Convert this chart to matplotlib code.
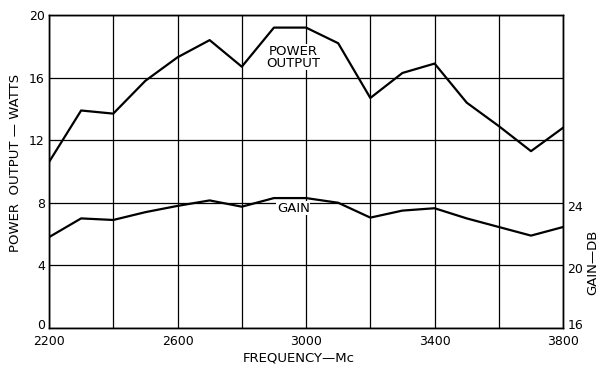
import matplotlib
matplotlib.use("Agg")
import matplotlib.pyplot as plt
from matplotlib.transforms import ScaledTranslation

freq = [2200, 2300, 2400, 2500, 2600, 2700, 2800, 2900, 3000, 3100, 3200, 3300, 3400, 3500, 3600, 3700, 3800]
power_w = [10.6, 13.9, 13.7, 15.8, 17.3, 18.4, 16.7, 19.2, 19.2, 18.2, 14.7, 16.3, 16.9, 14.4, 12.9, 11.3, 12.8]
gain_db = [21.8, 23.0, 22.9, 23.4, 23.8, 24.15, 23.75, 24.3, 24.3, 24.0, 23.05, 23.5, 23.65, 23.0, 22.45, 21.9, 22.45]

x_ticks = [2200, 2600, 3000, 3400, 3800]
y_ticks = [0, 4, 8, 12, 16, 20]
gain_ticks = [16, 20, 24]

plt.rcParams['font.family'] = ['DejaVu Sans']
fig = plt.figure(figsize=(6.01, 3.68), dpi=100)
ax = fig.add_axes([0.0815, 0.109, 0.8555, 0.850])
ax.set_xlim(2200, 3800)
ax.set_ylim(0, 20)
ax.set_xticks(range(2200, 3801, 200))
ax.set_xticklabels([str(v) if v in x_ticks else "" for v in range(2200, 3801, 200)])
ax.set_yticks(y_ticks)
ax.grid(True, color='black', linewidth=0.9)
ax.tick_params(length=0, labelsize=9, pad=3)
ax.tick_params(axis='x', pad=5)
for s in ax.spines.values():
    s.set_linewidth(1.0)

ax.plot(freq, power_w, color='black', linewidth=1.6, zorder=3)

ax2 = ax.twinx()
ax2.set_ylim(16, 36)
ax2.set_yticks(gain_ticks)
ax2.tick_params(length=0, labelsize=9, pad=3)
ax2.plot(freq, gain_db, color='black', linewidth=1.6, zorder=3)
for s in ax2.spines.values():
    s.set_linewidth(1.0)

# lift the bottom tick labels on both y axes so they clear the x labels
up = ScaledTranslation(0, 4 / 100, fig.dpi_scale_trans)
fig.canvas.draw()
ax.get_yticklabels()[0].set_transform(ax.get_yticklabels()[0].get_transform() + up)
ax2.get_yticklabels()[0].set_transform(ax2.get_yticklabels()[0].get_transform() + up)
down = ScaledTranslation(0, -3 / 100, fig.dpi_scale_trans)
for lab in ax2.get_yticklabels()[1:]:
    lab.set_transform(lab.get_transform() + down)

ax.text(2960, 17.3, "POWER\nOUTPUT", ha='center', va='center', fontsize=9.5,
        linespacing=0.9, zorder=4,
        bbox=dict(facecolor='white', edgecolor='none', pad=0.5))
ax.text(2960, 7.65, "GAIN", ha='center', va='center', fontsize=9.5, zorder=4,
        bbox=dict(facecolor='white', edgecolor='none', pad=0.5))

fig.text(0.025, 0.557, "POWER  OUTPUT — WATTS", rotation=90, ha='center', va='center', fontsize=9.5)
fig.text(0.987, 0.288, "GAIN—DB", rotation=90, ha='center', va='center', fontsize=9.5)
fig.text(0.497, 0.027, "FREQUENCY—Mc", ha='center', va='center', fontsize=9.5)

fig.savefig("out.png", dpi=100)
